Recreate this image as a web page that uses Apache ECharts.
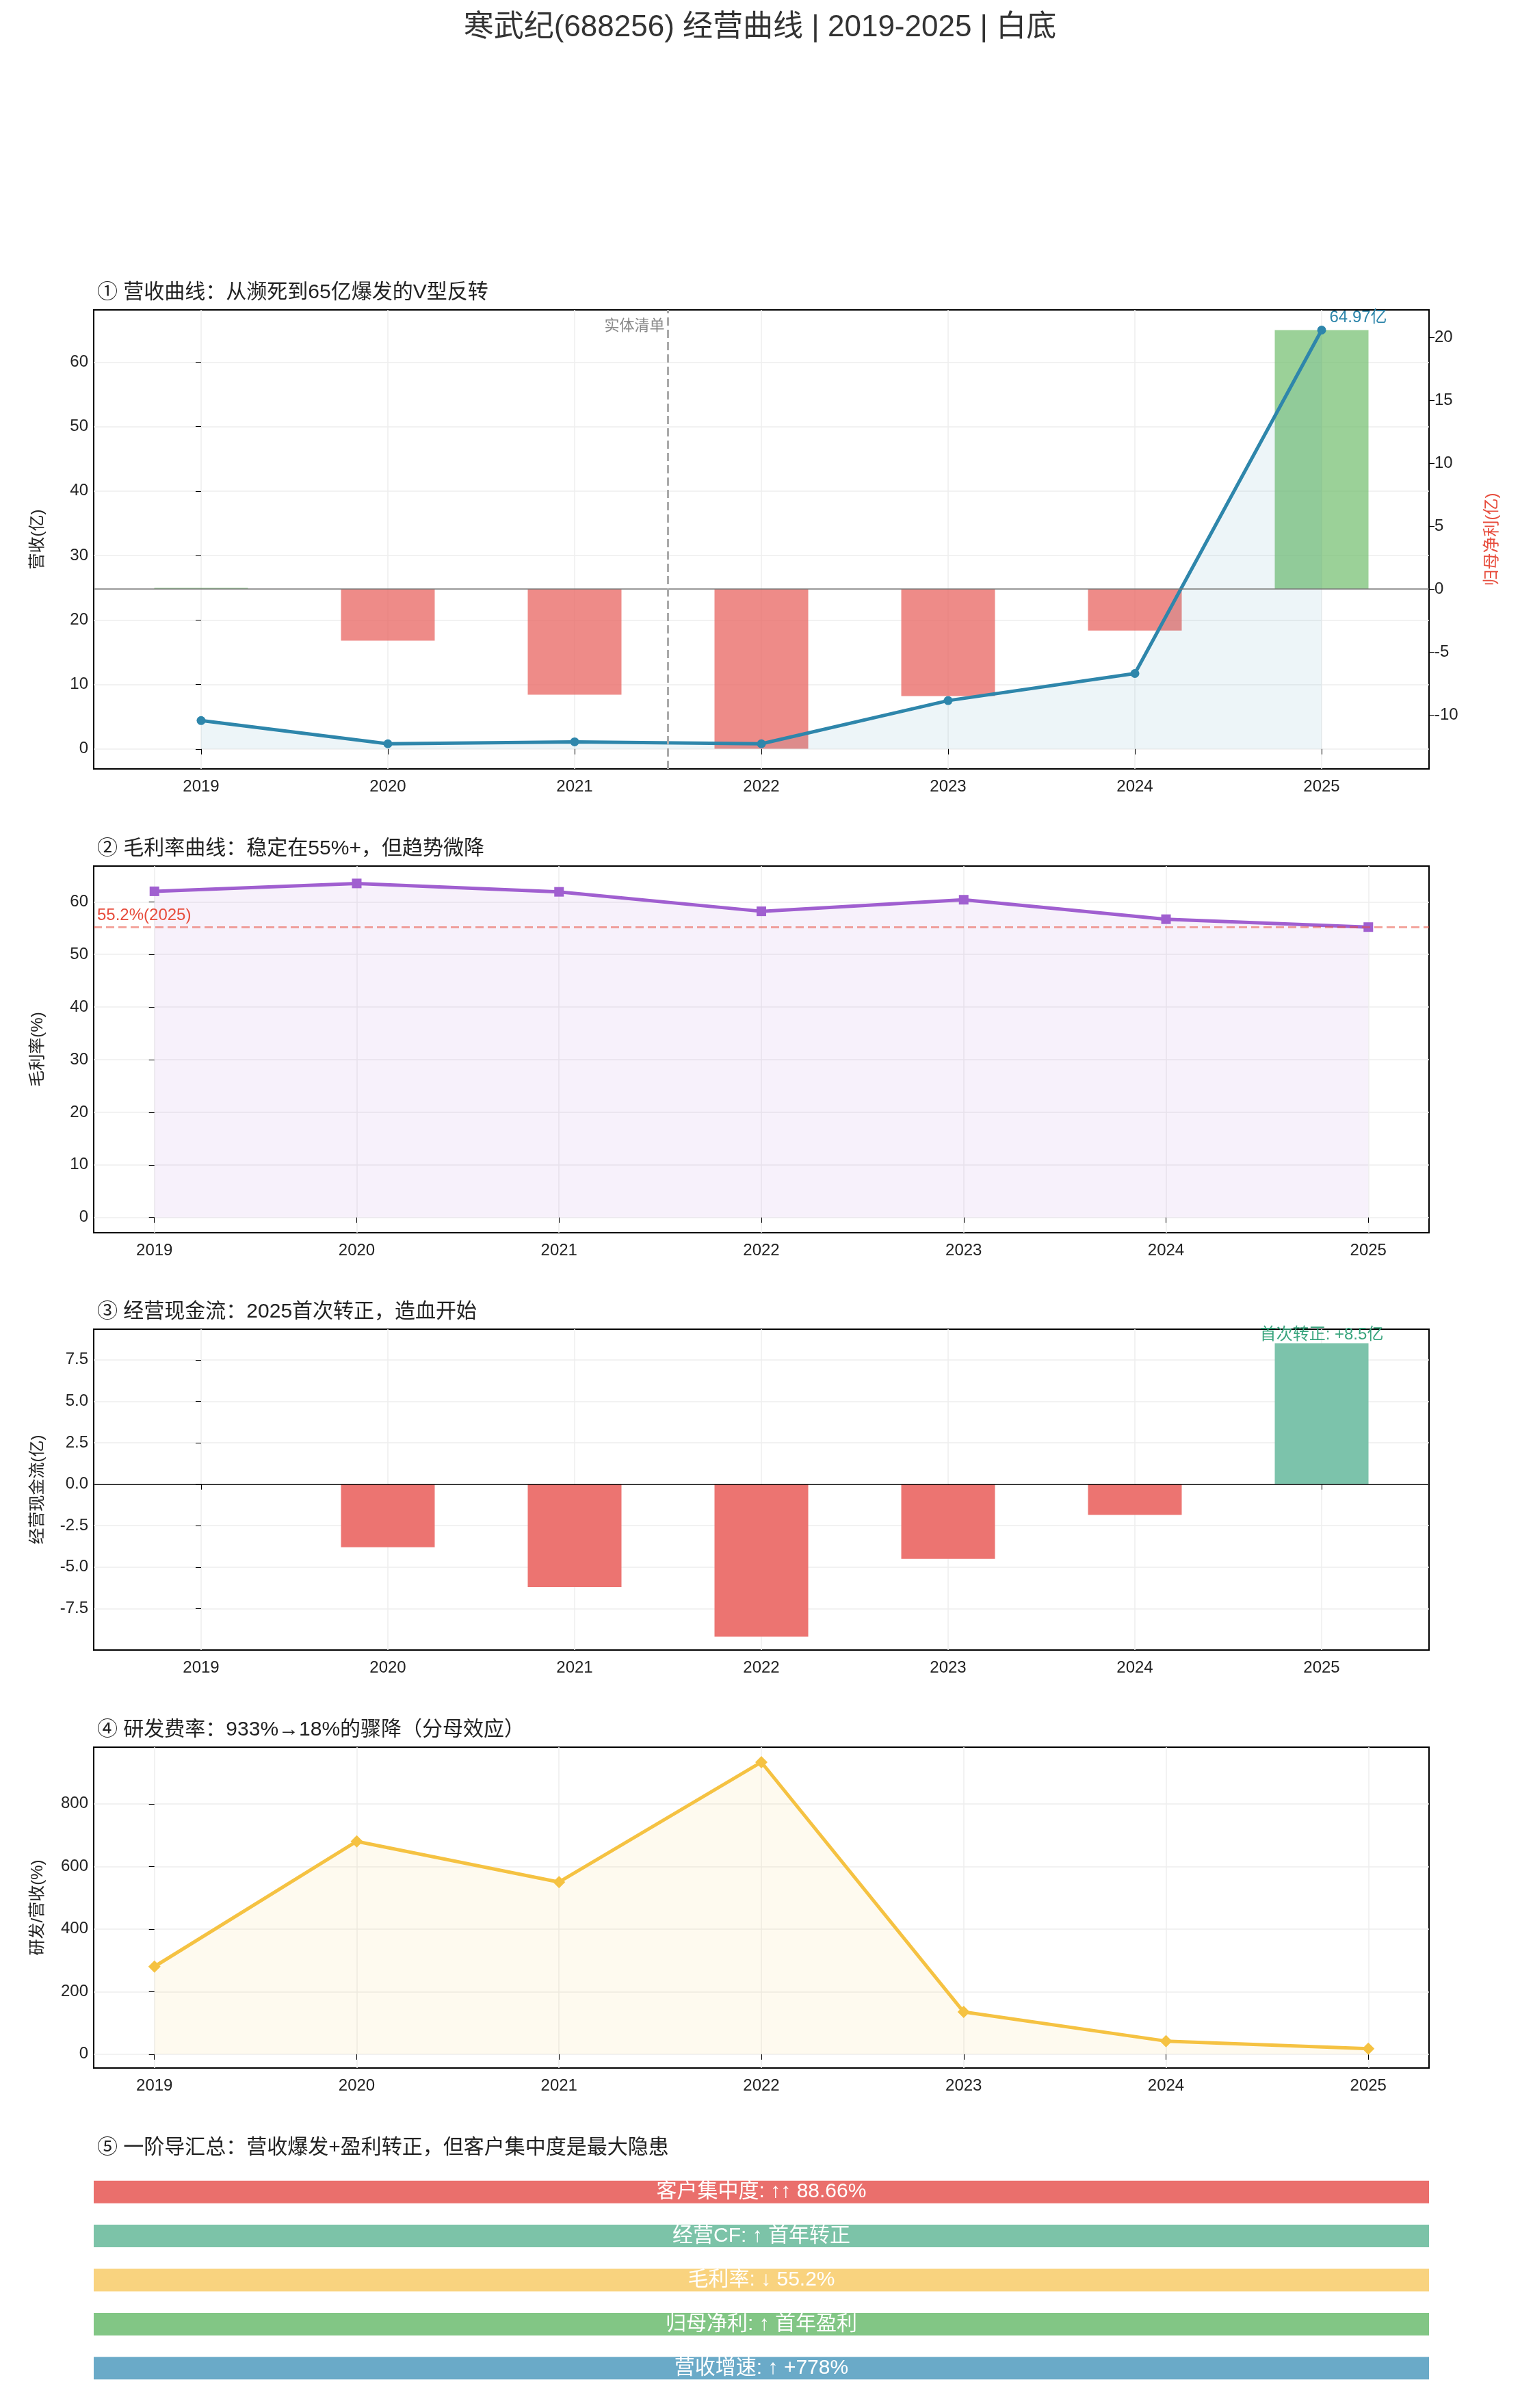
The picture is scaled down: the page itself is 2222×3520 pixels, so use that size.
<!DOCTYPE html>
<html lang="zh">
<head>
<meta charset="UTF-8">
<title>寒武纪 经营曲线</title>
<script src="https://cdn.jsdelivr.net/npm/echarts@6/dist/echarts.min.js"></script>
<style>
  html, body { margin: 0; padding: 0; background: #fff; }
  #main { width: 2222px; height: 3520px; }
</style>
</head>
<body>
<div id="main"></div>
<script>
// 数据
var years = ['2019', '2020', '2021', '2022', '2023', '2024', '2025'];
var revenue = [4.4, 0.8, 1.1, 0.8, 7.5, 11.7, 64.97];          // 营收(亿)
var netProfit = [0.1, -4.1, -8.4, -12.7, -8.5, -3.3, 20.6];     // 归母净利(亿)
var grossMargin = [62.0, 63.5, 61.9, 58.2, 60.4, 56.7, 55.2];   // 毛利率(%)
var cashFlow = [0, -3.8, -6.2, -9.2, -4.5, -1.85, 8.5];         // 经营现金流(亿)
var rdRatio = [280, 680, 550, 933, 135, 42, 18];                // 研发/营收(%)
var summaryLabels = ['客户集中度: ↑↑ 88.66%', '经营CF: ↑ 首年转正', '毛利率: ↓ 55.2%', '归母净利: ↑ 首年盈利', '营收增速: ↑ +778%'];
var summaryColors = ['#ea6f6c', '#7cc3a8', '#f9d37f', '#82c685', '#6aaac8'];

var font = "'Liberation Sans', 'Noto Sans CJK SC', sans-serif";
var idx = years.map(function (y, i) { return i; });
function pairs(arr) { return arr.map(function (v, i) { return [i, v]; }); }

var gridBase = { left: 137, right: 133, show: true, borderColor: '#000', borderWidth: 2, backgroundColor: 'transparent' };
var axisLbl = { fontSize: 24, color: '#222', fontFamily: font };
var splitLn = { show: true, lineStyle: { color: '#eee', width: 1.5 } };

function xAxisFor(g, pad) {
  return {
    type: 'value', gridIndex: g, min: -pad, max: 6 + pad,
    axisLine: { show: false },
    axisTick: { show: true, customValues: idx, length: 8, lineStyle: { color: '#000' } },
    axisLabel: Object.assign({ customValues: idx, margin: 14, formatter: function (v) { return years[Math.round(v)]; } }, axisLbl),
    splitLine: splitLn
  };
}
function yAxisFor(g, min, max, ticks, name, fmt) {
  return {
    type: 'value', gridIndex: g, min: min, max: max,
    name: name, nameLocation: 'middle', nameGap: 70,
    nameTextStyle: { fontSize: 24, color: '#222', fontFamily: font },
    axisLine: { show: false },
    axisTick: { show: true, customValues: ticks, length: 8, lineStyle: { color: '#000' } },
    axisLabel: Object.assign({ customValues: ticks, formatter: fmt || function (v) { return v; } }, axisLbl),
    splitLine: splitLn
  };
}

var chart = echarts.init(document.getElementById('main'));
var titleStyle = { fontSize: 30, color: '#222', fontWeight: 'normal', fontFamily: font };

chart.setOption({
  backgroundColor: '#fff',
  animation: false,
  title: [
    { text: '寒武纪(688256) 经营曲线 | 2019-2025 | 白底', left: 'center', top: 14, textStyle: { fontSize: 44, color: '#333', fontWeight: 'normal', fontFamily: font } },
    { text: '① 营收曲线：从濒死到65亿爆发的V型反转', left: 137, top: 408, textStyle: titleStyle },
    { text: '② 毛利率曲线：稳定在55%+，但趋势微降', left: 137, top: 1221, textStyle: titleStyle },
    { text: '③ 经营现金流：2025首次转正，造血开始', left: 137, top: 1898, textStyle: titleStyle },
    { text: '④ 研发费率：933%→18%的骤降（分母效应）', left: 137, top: 2509, textStyle: titleStyle },
    { text: '⑤ 一阶导汇总：营收爆发+盈利转正，但客户集中度是最大隐患', left: 137, top: 3120, textStyle: titleStyle }
  ],
  grid: [
    Object.assign({ top: 453, height: 671 }, gridBase),
    Object.assign({ top: 1266, height: 536 }, gridBase),
    Object.assign({ top: 1943, height: 469 }, gridBase),
    Object.assign({ top: 2554, height: 469 }, gridBase),
    { left: 137, right: 133, top: 3172, height: 322, show: false }
  ],
  xAxis: [
    xAxisFor(0, 0.575),
    xAxisFor(1, 0.3),
    xAxisFor(2, 0.575),
    xAxisFor(3, 0.3),
    { type: 'value', gridIndex: 4, min: 0, max: 1, show: false }
  ],
  yAxis: [
    yAxisFor(0, -3.1, 68.1, [0, 10, 20, 30, 40, 50, 60], '营收(亿)'),
    Object.assign(yAxisFor(0, -14.3, 22.2, [-10, -5, 0, 5, 10, 15, 20], '归母净利(亿)'), {
      position: 'right', splitLine: { show: false }, nameGap: 80,
      nameTextStyle: { fontSize: 24, color: '#e74c3c', fontFamily: font }
    }),
    yAxisFor(1, -2.9, 66.8, [0, 10, 20, 30, 40, 50, 60], '毛利率(%)'),
    yAxisFor(2, -10, 9.35, [-7.5, -5, -2.5, 0, 2.5, 5, 7.5], '经营现金流(亿)', function (v) { return v.toFixed(1); }),
    yAxisFor(3, -44, 981, [0, 200, 400, 600, 800], '研发/营收(%)'),
    { type: 'category', gridIndex: 4, data: summaryLabels, inverse: true, show: false }
  ],
  series: [
    {
      type: 'bar', xAxisIndex: 0, yAxisIndex: 1, barWidth: 137,
      data: netProfit.map(function (v, i) {
        return { value: [i, v], itemStyle: { color: v >= 0 ? 'rgba(112,190,108,0.7)' : 'rgba(232,100,96,0.75)' } };
      }),
      markLine: {
        symbol: 'none', silent: true, label: { show: false },
        lineStyle: { color: '#777', type: 'solid', width: 1.5 },
        data: [{ yAxis: 0 }]
      }
    },
    {
      type: 'line', xAxisIndex: 0, yAxisIndex: 0, data: pairs(revenue),
      symbol: 'circle', symbolSize: 13,
      lineStyle: { color: '#2e86ab', width: 5 }, itemStyle: { color: '#2e86ab' },
      areaStyle: { color: 'rgba(46,134,171,0.12)' },
      label: {
        show: true, fontSize: 24, color: '#2e86ab', fontFamily: font, position: 'right', offset: [0, -18],
        formatter: function (p) { return p.dataIndex === 6 ? '64.97亿' : ''; }
      },
      markLine: {
        symbol: 'none', silent: true,
        lineStyle: { color: '#aaa', type: 'dashed', width: 3 },
        label: { show: true, position: 'insideEndTop', formatter: '实体清单', fontSize: 22, color: '#888', fontFamily: font, rotate: 0, offset: [0, 40] },
        data: [{ xAxis: 2.5 }]
      }
    },
    {
      type: 'line', xAxisIndex: 1, yAxisIndex: 2, data: pairs(grossMargin),
      symbol: 'rect', symbolSize: 14,
      lineStyle: { color: '#a05fd0', width: 5 }, itemStyle: { color: '#a05fd0' },
      areaStyle: { color: 'rgba(160,95,208,0.12)' },
      markLine: {
        symbol: 'none', silent: true,
        lineStyle: { color: 'rgba(231,76,60,0.5)', type: 'dashed', width: 3 },
        label: { show: true, position: 'insideStartTop', formatter: '55.2%(2025)', fontSize: 24, color: '#e74c3c', fontFamily: font },
        data: [{ yAxis: 55.2 }]
      }
    },
    {
      type: 'bar', xAxisIndex: 2, yAxisIndex: 3, barWidth: 137,
      data: cashFlow.map(function (v, i) {
        return { value: [i, v], itemStyle: { color: v >= 0 ? '#7cc3ab' : '#ec7471' } };
      }),
      label: {
        show: true, position: 'top', distance: 0, fontSize: 24, color: '#3aa57e', fontFamily: font,
        formatter: function (p) { return p.dataIndex === 6 ? '首次转正: +8.5亿' : ''; }
      },
      markLine: {
        symbol: 'none', silent: true, label: { show: false },
        lineStyle: { color: '#000', type: 'solid', width: 1.5 },
        data: [{ yAxis: 0 }]
      }
    },
    {
      type: 'line', xAxisIndex: 3, yAxisIndex: 4, data: pairs(rdRatio),
      symbol: 'diamond', symbolSize: 18,
      lineStyle: { color: '#f5c242', width: 5 }, itemStyle: { color: '#f5c242' },
      areaStyle: { color: 'rgba(245,194,66,0.12)' }
    },
    {
      type: 'bar', xAxisIndex: 4, yAxisIndex: 5, barWidth: 33,
      data: summaryLabels.map(function (t, i) { return { value: 1, itemStyle: { color: summaryColors[i] } }; }),
      label: {
        show: true, position: 'inside', fontSize: 30, color: '#fff', fontFamily: font,
        formatter: function (p) { return summaryLabels[p.dataIndex]; }
      }
    }
  ]
});
</script>
</body>
</html>
